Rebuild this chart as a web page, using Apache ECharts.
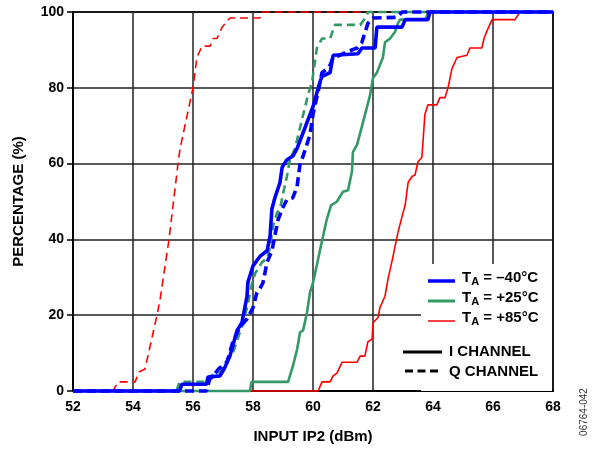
<!DOCTYPE html>
<html>
<head>
<meta charset="utf-8">
<script src="https://cdn.jsdelivr.net/npm/echarts@6/dist/echarts.min.js"></script>
<style>
html, body { margin: 0; padding: 0; background: #fff; }
#ech { width: 595px; height: 449px; }
</style>
</head>
<body>
<div id="ech"></div>
<script>
// x ticks / y ticks
var xTicks = [52, 54, 56, 58, 60, 62, 64, 66, 68];
var yTicks = [0, 20, 40, 60, 80, 100];

// -40C, I channel
var blueIx = [52, 55.55, 55.63, 56.45, 56.5, 56.9, 57.05, 57.23, 57.47, 57.63, 57.8, 57.83, 58.0, 58.23, 58.47, 58.57, 58.63, 58.73, 58.9, 58.97, 59.13, 59.33, 59.47, 60.0, 60.23, 60.3, 60.57, 60.67, 61.5, 61.63, 62.07, 62.13, 62.97, 63.07, 63.83, 63.9, 68];
var blueIy = [0, 0, 1.8, 1.8, 3.7, 4, 6, 9.2, 16, 18, 25, 28.7, 33, 35.5, 37, 41, 48, 51, 55, 59, 61, 62, 64, 75, 81.5, 83, 84, 88.6, 89, 90.5, 90.5, 96, 96, 98, 98, 100, 100];
// -40C, Q channel
var blueQx = [52, 56.45, 56.55, 56.67, 56.85, 57.13, 57.33, 57.57, 57.8, 58.0, 58.13, 58.23, 58.33, 58.47, 58.63, 58.73, 58.83, 58.97, 59.13, 59.33, 59.47, 59.57, 59.67, 59.9, 60.0, 60.17, 60.3, 60.47, 60.57, 60.67, 60.9, 61.13, 61.47, 61.63, 61.83, 62.0, 62.8, 62.97, 68];
var blueQy = [0, 0, 3, 4, 5.8, 7.6, 13, 17, 19, 22, 26, 27, 28.5, 34, 37, 41, 45, 48, 50.5, 51, 54, 60, 62, 67.6, 73, 79, 84, 85, 86, 88, 88.6, 89.5, 90.5, 92, 97, 98.4, 98.6, 100, 100];
// +25C, I channel
var greenIx = [52, 57.9, 57.95, 59.17, 59.33, 59.47, 59.57, 59.67, 59.8, 59.9, 60.0, 60.23, 60.45, 60.6, 60.8, 61.0, 61.17, 61.3, 61.33, 61.47, 61.67, 61.9, 62.0, 62.13, 62.33, 62.4, 62.57, 62.73, 62.83, 62.9, 63.75, 63.85, 68];
var greenIy = [0, 0, 2.4, 2.4, 6.6, 11, 15.5, 16, 20.7, 26, 28.5, 37, 45, 49, 50, 52.6, 53, 58, 63, 65, 71, 78, 82.6, 84, 88, 92, 93, 94.7, 97, 98, 98, 100, 100];
// +25C, Q channel
var greenQx = [52, 55.45, 55.55, 56.5, 56.6, 56.9, 57.0, 57.33, 57.67, 57.83, 57.97, 58.07, 58.3, 58.47, 58.57, 58.67, 58.8, 58.9, 59.0, 59.13, 59.23, 59.4, 59.83, 59.97, 60.13, 60.3, 60.57, 60.73, 61.57, 61.8, 61.83, 68];
var greenQy = [0, 0, 2.4, 2.4, 4, 5, 6.6, 10, 18, 23, 28.5, 31, 34, 35, 38, 43.5, 47, 48, 52, 56.6, 61, 64, 78, 81.6, 90.5, 93, 93, 96.6, 96.6, 99, 100, 100];
// +85C, I channel
var redIx = [52, 60.17, 60.3, 60.57, 60.67, 60.8, 60.97, 61.47, 61.57, 61.73, 61.83, 61.97, 62.0, 62.17, 62.23, 62.4, 62.5, 62.67, 62.83, 63.0, 63.07, 63.17, 63.3, 63.4, 63.5, 63.63, 63.73, 63.83, 64.13, 64.23, 64.4, 64.5, 64.63, 64.8, 65.13, 65.23, 65.63, 65.7, 65.8, 65.97, 66.73, 66.9, 68];
var redIy = [0, 0, 2.4, 2.4, 4, 4.7, 7.6, 7.6, 9.2, 9.2, 13, 13.7, 18, 19.4, 22, 25, 29.5, 35.6, 41.8, 47, 49, 55, 56.6, 57, 60.5, 61.6, 73, 75.5, 75.5, 77.4, 77.4, 80, 85, 88, 88.6, 90.5, 90.5, 93, 95, 98, 98, 100, 100];
// +85C, Q channel
var redQx = [52, 53.33, 53.5, 54.07, 54.2, 54.4, 54.8, 54.9, 55.2, 55.5, 55.57, 56.0, 56.13, 56.3, 56.57, 56.67, 56.8, 56.97, 57.23, 58.23, 58.3, 68];
var redQy = [0, 0, 2.4, 2.4, 5, 5.8, 20, 24, 40, 60, 64, 80, 88, 91, 91, 93, 93, 96, 98.4, 98.4, 100, 100];

function pairs(xs, ys) {
	var out = [];
	for (var i = 0; i < xs.length; i++) out.push([xs[i], ys[i]]);
	return out;
}

var BLUE = '#0000ff', GREEN = '#339966', RED = '#ff0000';
var FONT = '"Liberation Sans", Arial, sans-serif';

function mkSeries(name, xs, ys, color, width, dashed) {
	return {
		name: name,
		type: 'line',
		data: pairs(xs, ys),
		symbol: 'none',
		clip: false,
		lineStyle: { color: color, width: width, type: dashed ? dashed : 'solid' },
		z: 3
	};
}

function legendLabel(txt) {
	return '{t|T}{s|A}{t| = ' + txt + '}';
}

var richTA = {
	t: { fontSize: 15, fontWeight: 'bold', fontFamily: FONT, fill: '#000', color: '#000', verticalAlign: 'bottom', height: 18 },
	s: { fontSize: 11, fontWeight: 'bold', fontFamily: FONT, fill: '#000', color: '#000', verticalAlign: 'bottom', height: 18, padding: [0, 0, -4, 0] }
};

var myChart = echarts.init(document.getElementById('ech'));
var option = {
	backgroundColor: '#fff',
	animation: false,
	grid: { left: 73, right: 42, top: 12, bottom: 57, show: true, borderColor: '#000', borderWidth: 2 },
	xAxis: {
		type: 'value', min: 52, max: 68, interval: 2,
		name: 'INPUT IP2 (dBm)', nameLocation: 'middle', nameGap: 38,
		nameTextStyle: { fontSize: 15, fontWeight: 'bold', fontFamily: FONT, color: '#000' },
		axisLine: { show: true, lineStyle: { color: '#000', width: 2 } },
		axisTick: { show: false },
		axisLabel: { fontSize: 14, fontWeight: 'bold', fontFamily: FONT, color: '#000', margin: 9 },
		splitLine: { show: true, lineStyle: { color: '#222', width: 1.5 } }
	},
	yAxis: {
		type: 'value', min: 0, max: 100, interval: 20,
		name: 'PERCENTAGE (%)', nameLocation: 'middle', nameGap: 47,
		nameTextStyle: { fontSize: 15, fontWeight: 'bold', fontFamily: FONT, color: '#000' },
		axisLine: { show: true, lineStyle: { color: '#000', width: 2 } },
		axisTick: { show: true, inside: false, length: 6, lineStyle: { color: '#000', width: 1.5 } },
		axisLabel: { fontSize: 14, fontWeight: 'bold', fontFamily: FONT, color: '#000', margin: 9 },
		splitLine: { show: true, lineStyle: { color: '#222', width: 1.5 } }
	},
	graphic: [
		// blank box behind legend
		{ type: 'rect', z: 1, shape: { x: 421, y: 264, width: 131, height: 127 }, style: { fill: '#fff' } },
		{ type: 'line', z: 10, shape: { x1: 428, y1: 281, x2: 455, y2: 281 }, style: { stroke: BLUE, lineWidth: 3.5 } },
		{ type: 'line', z: 10, shape: { x1: 428, y1: 301, x2: 455, y2: 301 }, style: { stroke: GREEN, lineWidth: 3 } },
		{ type: 'line', z: 10, shape: { x1: 428, y1: 321, x2: 455, y2: 321 }, style: { stroke: RED, lineWidth: 1.5 } },
		{ type: 'text', z: 10, left: 462, top: 270, style: { text: legendLabel('\u201340\u00b0C'), rich: richTA } },
		{ type: 'text', z: 10, left: 462, top: 290, style: { text: legendLabel('+25\u00b0C'), rich: richTA } },
		{ type: 'text', z: 10, left: 462, top: 310, style: { text: legendLabel('+85\u00b0C'), rich: richTA } },
		{ type: 'line', z: 10, shape: { x1: 403, y1: 352, x2: 442, y2: 352 }, style: { stroke: '#000', lineWidth: 3 } },
		{ type: 'line', z: 10, shape: { x1: 405, y1: 371, x2: 442, y2: 371 }, style: { stroke: '#000', lineWidth: 3, lineDash: [8, 4.5] } },
		{ type: 'text', z: 10, left: 449, top: 344, style: { text: 'I CHANNEL', fontSize: 15, fontWeight: 'bold', fontFamily: FONT, fill: '#000' } },
		{ type: 'text', z: 10, left: 449, top: 364, style: { text: 'Q CHANNEL', fontSize: 15, fontWeight: 'bold', fontFamily: FONT, fill: '#000' } },
		{ type: 'text', z: 10, x: 584, y: 412, rotation: Math.PI / 2, style: { text: '06764-042', fontSize: 10, fontFamily: FONT, fill: '#333', align: 'center', verticalAlign: 'middle' } }
	],
	series: [
		mkSeries('redI', redIx, redIy, RED, 1.6),
		mkSeries('redQ', redQx, redQy, RED, 1.6, [8, 5]),
		mkSeries('greenI', greenIx, greenIy, GREEN, 2.6),
		mkSeries('greenQ', greenQx, greenQy, GREEN, 2.6, [8, 5]),
		mkSeries('blueQ', blueQx, blueQy, BLUE, 3.6, [9, 5]),
		mkSeries('blueI', blueIx, blueIy, BLUE, 3.6)
	]
};
myChart.setOption(option);
</script>
</body>
</html>
